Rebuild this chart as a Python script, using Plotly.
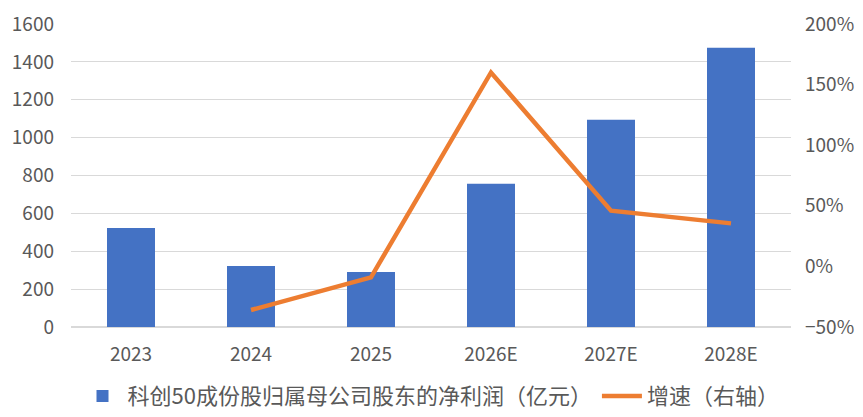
import plotly.graph_objects as go

categories = ["2023", "2024", "2025", "2026E", "2027E", "2028E"]
profit = [523, 322, 291, 756, 1094, 1475]
growth_years = ["2024", "2025", "2026E", "2027E", "2028E"]
growth = [-36, -9, 160, 46, 35.5]

font_family = "Noto Sans CJK SC"
grey = "#595959"

fig = go.Figure()
fig.add_trace(go.Bar(
    x=categories, y=profit, name="科创50成份股归属母公司股东的净利润（亿元）",
    marker=dict(color="#4472C4", line=dict(width=0)), yaxis="y"
))
fig.add_trace(go.Scatter(
    x=growth_years, y=growth, name="增速（右轴）", mode="lines",
    line=dict(color="#ED7D31", width=4.5), yaxis="y2"
))

fig.update_layout(
    width=863, height=417,
    margin=dict(l=71, r=72, t=24, b=90, autoexpand=False),
    plot_bgcolor="white", paper_bgcolor="white",
    bargap=0.6,
    font=dict(family=font_family, size=19, color=grey),
    xaxis=dict(showgrid=False, showline=False, ticks="", automargin=False,
               tickfont=dict(size=19, color=grey), ticklabelstandoff=14),
    yaxis=dict(range=[0, 1600], dtick=200, showgrid=True, gridcolor="#D9D9D9", gridwidth=1,
               zeroline=True, zerolinecolor="#D9D9D9", showline=False, automargin=False,
               tickfont=dict(size=19, color=grey), ticks="", ticklabelstandoff=16),
    yaxis2=dict(range=[-50, 200], dtick=50, overlaying="y", side="right", showgrid=False,
                zeroline=False, ticksuffix="%", tickfont=dict(size=19, color=grey),
                automargin=False, ticklabelstandoff=13),
    legend=dict(orientation="h", x=0.5, xanchor="center", y=-0.228, yanchor="middle",
                font=dict(size=22, color=grey), itemwidth=40),
)

fig.write_html("out.html", config={"displayModeBar": False},
               post_script="document.body.style.margin='0';document.body.style.overflow='hidden';")
